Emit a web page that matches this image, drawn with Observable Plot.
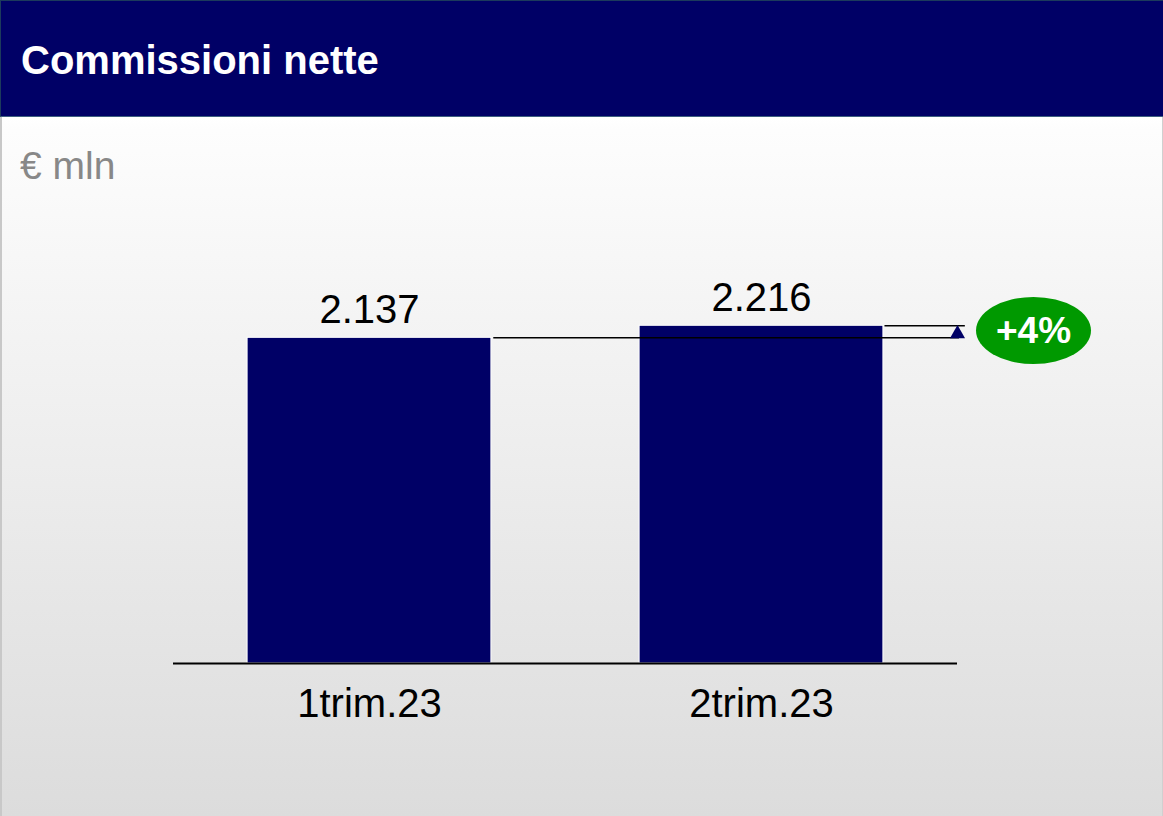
<!DOCTYPE html>
<html>
<head>
<meta charset="utf-8">
<script src="https://cdn.jsdelivr.net/npm/d3@7"></script>
<script src="https://cdn.jsdelivr.net/npm/@observablehq/plot@0.6"></script>
<style>
  html, body { margin: 0; padding: 0; }
  body { width: 1163px; height: 816px; overflow: hidden; font-family: "Liberation Sans", Arial, sans-serif; }
  #page { position: relative; width: 1163px; height: 816px;
    background: linear-gradient(to bottom, #ffffff 117px, #fdfdfd 130px, #dcdcdc 816px); }
  #leftline { position: absolute; left: 0; top: 117px; width: 2px; height: 699px; background: #c8c8c8; }
  #rightline { position: absolute; right: 0; top: 117px; width: 1px; height: 699px; background: #d0d0d0; }
  #header { position: absolute; left: 0; top: 0; width: 1163px; height: 117px; background: #000066;
    box-sizing: border-box; border-top: 1px solid #1c3a5c; border-left: 1px solid #1c3a5c; border-bottom: 1px solid #3d5f80; }
  #title { position: absolute; left: 20px; top: 37px; color: #fff; font-weight: bold; font-size: 40px; line-height: 44px; white-space: nowrap; }
  #unit { position: absolute; left: 20px; top: 144px; color: #888888; font-size: 39px; line-height: 44px; white-space: nowrap; }
  #chart { position: absolute; left: 0; top: 230px; }
  #badge { position: absolute; left: 976px; top: 297px; width: 115px; height: 67px; border-radius: 50%;
    background: #009900; color: #fff; font-weight: bold; font-size: 37px; display: flex; align-items: center; justify-content: center; }
</style>
</head>
<body>
<div id="page">
  <div id="leftline"></div>
  <div id="rightline"></div>
  <div id="header"><div id="title">Commissioni nette</div></div>
  <div id="unit">€ mln</div>
  <div id="chart"></div>
  <div id="badge"></div>
</div>
<script>
const categories = ["1trim.23", "2trim.23"];
const values = [2137, 2216];
const deltaLabel = "+4%";

const fmt = d3.formatLocale({decimal: ",", thousands: ".", grouping: [3], currency: ["€", ""]}).format(",d");
const rows = categories.map((c, i) => ({c, i, v: values[i]}));
const hw = 0.311; // half bar width in category units
const first = rows[0], last = rows[rows.length - 1];

document.getElementById("badge").textContent = deltaLabel;

const chart = Plot.plot({
  width: 1163,
  height: 530,
  marginLeft: 173,
  marginRight: 206,
  marginTop: 52,
  marginBottom: 97,
  style: {background: "transparent", fontFamily: "'Liberation Sans', Arial, sans-serif", fontSize: "40px", color: "black"},
  x: {domain: [-0.5, 1.5], ticks: rows.map(d => d.i), tickFormat: i => categories[i], tickSize: 0, tickPadding: 25, label: null},
  y: {domain: [0, 2500], axis: null},
  marks: [
    Plot.rectY(rows, {x1: d => d.i - hw, x2: d => d.i + hw, y1: 0, y2: "v", fill: "#000066", stroke: "white", strokeWidth: 1}),
    Plot.ruleY([0], {stroke: "black", strokeWidth: 2}),
    Plot.ruleY([first], {y: "v", x1: d => d.i + hw + 0.006, x2: 1.505, stroke: "black", strokeWidth: 1.5}),
    Plot.ruleY([last], {y: "v", x1: d => d.i + hw + 0.004, x2: 1.52, stroke: "black", strokeWidth: 1.5}),
    Plot.dot([first], {x: 1.5, y: "v", dy: -4, r: 5.6, symbol: "triangle", fill: "#000066", stroke: "none"}),
    Plot.text(rows, {x: "i", y: "v", text: d => fmt(d.v), dy: -15, lineAnchor: "bottom", fontSize: 40, fill: "black"})
  ]
});
document.getElementById("chart").appendChild(chart);
</script>
</body>
</html>
